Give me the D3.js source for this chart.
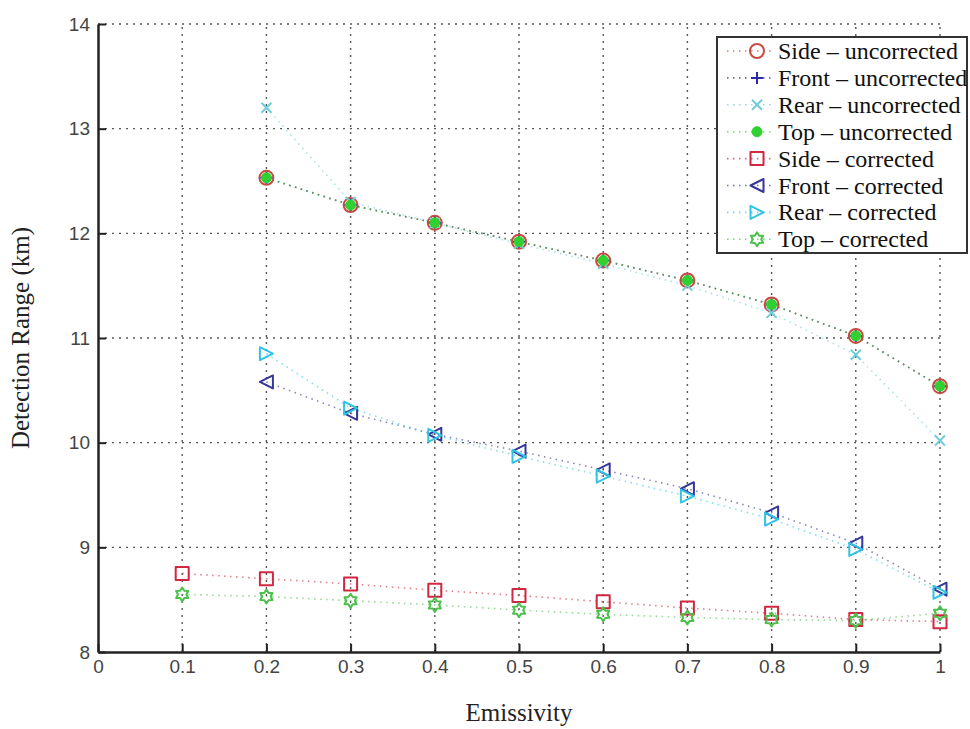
<!DOCTYPE html>
<html>
<head>
<meta charset="utf-8">
<script src="https://cdn.jsdelivr.net/npm/d3@7"></script>
<style>
  body { margin: 0; background: #fff; }
  svg { display: block; }
</style>
</head>
<body>
<div id="chart"></div>
<script>
// data
const emissivity = [0.1, 0.2, 0.3, 0.4, 0.5, 0.6, 0.7, 0.8, 0.9, 1.0];
const sideUncorrected  = [null, 12.53, 12.27, 12.10, 11.92, 11.74, 11.55, 11.32, 11.02, 10.54];
const frontUncorrected = [null, 12.53, 12.27, 12.10, 11.92, 11.74, 11.55, 11.32, 11.02, 10.54];
const rearUncorrected  = [null, 13.20, 12.30, 12.10, 11.90, 11.71, 11.50, 11.24, 10.84, 10.02];
const topUncorrected   = [null, 12.53, 12.27, 12.10, 11.92, 11.74, 11.55, 11.32, 11.02, 10.54];
const sideCorrected    = [8.75, 8.70, 8.65, 8.59, 8.54, 8.48, 8.42, 8.37, 8.31, 8.29];
const frontCorrected   = [null, 10.58, 10.28, 10.08, 9.92, 9.74, 9.56, 9.33, 9.04, 8.60];
const rearCorrected    = [null, 10.85, 10.33, 10.07, 9.87, 9.68, 9.49, 9.27, 8.98, 8.57];
const topCorrected     = [8.55, 8.53, 8.49, 8.45, 8.40, 8.36, 8.33, 8.31, 8.30, 8.37];

const xTicks = [0, 0.1, 0.2, 0.3, 0.4, 0.5, 0.6, 0.7, 0.8, 0.9, 1];
const yTicks = [8, 9, 10, 11, 12, 13, 14];

const series = [
  { label: "Side \u2013 uncorrected",  values: sideUncorrected,  color: "#c84a40", shape: "circle" },
  { label: "Front \u2013 uncorrected", values: frontUncorrected, color: "#2a2aa8", shape: "plus" },
  { label: "Rear \u2013 uncorrected",  values: rearUncorrected,  color: "#70ccd8", shape: "x" },
  { label: "Top \u2013 uncorrected",   values: topUncorrected,   color: "#2fd02f", shape: "dot" },
  { label: "Side \u2013 corrected",    values: sideCorrected,    color: "#d02840", shape: "square" },
  { label: "Front \u2013 corrected",   values: frontCorrected,   color: "#363698", shape: "triLeft" },
  { label: "Rear \u2013 corrected",    values: rearCorrected,    color: "#30c4e4", shape: "triRight" },
  { label: "Top \u2013 corrected",     values: topCorrected,     color: "#4cbf4c", shape: "hex" }
];

const width = 970;
const height = 729;
const margin = { top: 24, right: 30, bottom: 77, left: 98 };

const svg = d3.select("#chart")
  .append("svg")
  .attr("width", width)
  .attr("height", height);

const x = d3.scaleLinear().domain([0, 1]).range([margin.left, width - margin.right]);
const y = d3.scaleLinear().domain([8, 14]).range([height - margin.bottom, margin.top]);

// dotted grid
const grid = svg.append("g")
  .attr("stroke", "#3a3a3a")
  .attr("stroke-width", 1.4)
  .attr("stroke-dasharray", "2,5")
  .attr("opacity", 0.85);

grid.selectAll("line.gx")
  .data(xTicks.slice(1))
  .enter().append("line")
  .attr("x1", d => x(d)).attr("x2", d => x(d))
  .attr("y1", y(8)).attr("y2", y(14));

grid.selectAll("line.gy")
  .data(yTicks.slice(1))
  .enter().append("line")
  .attr("x1", x(0)).attr("x2", x(1))
  .attr("y1", d => y(d)).attr("y2", d => y(d));

// marker shapes
function markerPath(shape, s) {
  if (shape === "circle" || shape === "dot") {
    return `M${s},0A${s},${s} 0 1,1 ${-s},0A${s},${s} 0 1,1 ${s},0Z`;
  }
  if (shape === "plus") return `M${-s},0H${s}M0,${-s}V${s}`;
  if (shape === "x") return `M${-s},${-s}L${s},${s}M${-s},${s}L${s},${-s}`;
  if (shape === "square") return `M${-s},${-s}H${s}V${s}H${-s}Z`;
  if (shape === "triLeft") return `M${-s},0L${s},${-s}L${s},${s}Z`;
  if (shape === "triRight") return `M${s},0L${-s},${-s}L${-s},${s}Z`;
  if (shape === "hex") {
    const pts = d3.range(12).map(i => {
      const a = -Math.PI / 2 + i * Math.PI / 6;
      const r = i % 2 === 0 ? s : s * 0.6;
      return [r * Math.cos(a), r * Math.sin(a)];
    });
    return "M" + pts.map(p => p.join(",")).join("L") + "Z";
  }
}

const markerSize = { circle: 7, plus: 6, x: 5, dot: 5, square: 6.5, triLeft: 6.5, triRight: 6.5, hex: 7 };

function drawMarker(g, shape, color) {
  g.append("path")
    .attr("d", markerPath(shape, markerSize[shape]))
    .attr("fill", shape === "dot" ? color : "none")
    .attr("stroke", color)
    .attr("stroke-width", shape === "dot" ? 1 : 2)
    .attr("stroke-linejoin", "round");
}

// dotted series lines
const line = d3.line()
  .defined(d => d[1] != null)
  .x(d => x(d[0]))
  .y(d => y(d[1]));

series.forEach(s => {
  const pts = emissivity.map((e, i) => [e, s.values[i]]);
  svg.append("path")
    .datum(pts)
    .attr("d", line)
    .attr("fill", "none")
    .attr("stroke", s.color)
    .attr("stroke-width", 1.6)
    .attr("stroke-dasharray", "1.5,4.5")
    .attr("opacity", 0.6);
});

series.forEach(s => {
  const pts = emissivity.map((e, i) => [e, s.values[i]]).filter(d => d[1] != null);
  svg.selectAll(null)
    .data(pts)
    .enter().append("g")
    .attr("transform", d => `translate(${x(d[0])},${y(d[1])})`)
    .each(function () { drawMarker(d3.select(this), s.shape, s.color); });
});

// axes
const xAxis = svg.append("g")
  .attr("transform", `translate(0,${y(8)})`)
  .call(d3.axisBottom(x).tickValues(xTicks).tickFormat(d3.format("")).tickSize(-8).tickSizeOuter(0).tickPadding(8));

const yAxis = svg.append("g")
  .attr("transform", `translate(${x(0)},0)`)
  .call(d3.axisLeft(y).tickValues(yTicks).tickFormat(d3.format("d")).tickSize(-8).tickSizeOuter(0).tickPadding(8));

[xAxis, yAxis].forEach(a => {
  a.select(".domain").attr("stroke", "#222").attr("stroke-width", 2.5);
  a.selectAll(".tick line").attr("stroke", "#222").attr("stroke-width", 2);
  a.selectAll("text")
    .style("font-family", "'Liberation Sans', Arial, sans-serif")
    .style("font-size", "19px")
    .style("fill", "#444");
});

// legend
const legend = svg.append("g").attr("transform", "translate(717,37)");
legend.append("rect")
  .attr("width", 250).attr("height", 216)
  .attr("fill", "#fff")
  .attr("stroke", "#333")
  .attr("stroke-width", 2);

series.forEach((s, i) => {
  const row = legend.append("g").attr("transform", `translate(0,${14 + i * 26.9})`);
  row.append("line")
    .attr("x1", 10).attr("x2", 58)
    .attr("stroke", s.color)
    .attr("stroke-width", 1.6)
    .attr("stroke-dasharray", "1.5,4.5")
    .attr("opacity", 0.7);
  const m = row.append("g").attr("transform", "translate(40,0)");
  drawMarker(m, s.shape, s.color);
  row.append("text")
    .attr("x", 61)
    .attr("y", 8)
    .style("font-family", "'Liberation Serif', 'Times New Roman', serif")
    .style("font-size", "24px")
    .style("fill", "#111")
    .text(s.label);
});

// axis titles
svg.append("text")
  .attr("x", (x(0) + x(1)) / 2)
  .attr("y", 721)
  .attr("text-anchor", "middle")
  .style("font-family", "'Liberation Serif', 'Times New Roman', serif")
  .style("font-size", "25px")
  .style("fill", "#222")
  .text("Emissivity");

svg.append("text")
  .attr("transform", `translate(29,${y(11)}) rotate(-90)`)
  .attr("text-anchor", "middle")
  .style("font-family", "'Liberation Serif', 'Times New Roman', serif")
  .style("font-size", "25px")
  .style("fill", "#222")
  .text("Detection Range (km)");
</script>
</body>
</html>
